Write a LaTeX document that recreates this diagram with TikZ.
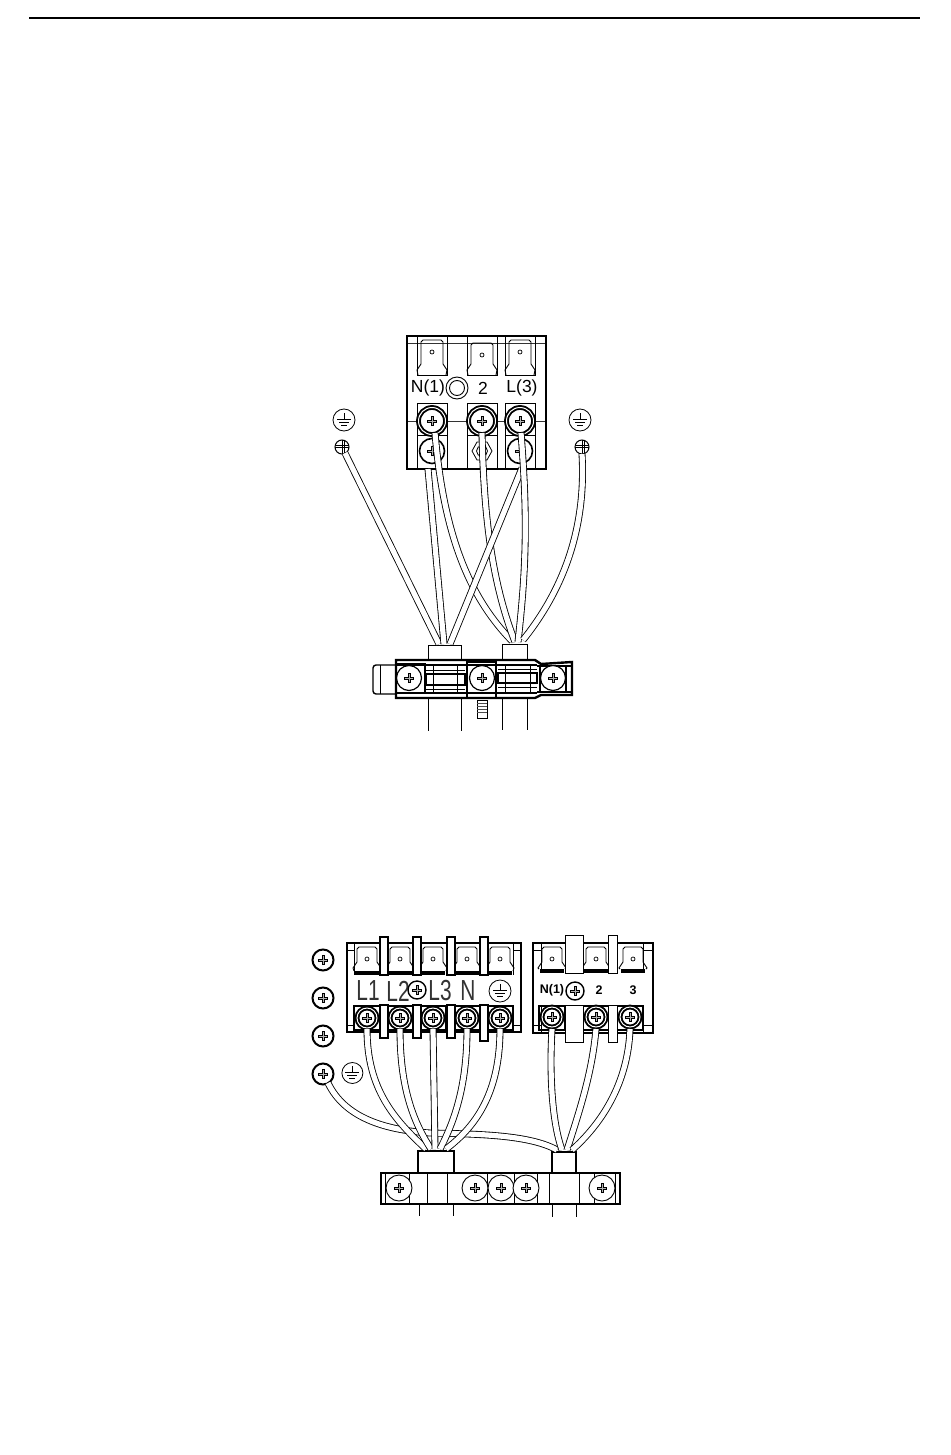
\documentclass[tikz,border=0pt]{standalone}
\usepackage{fontspec}
\setmainfont{Liberation Sans}
\newfontfamily\narrowfont[FakeStretch=0.72]{Liberation Sans}
\usetikzlibrary{positioning}
\newcommand{\screwcross}{%
  \draw[line width=3pt] ([xshift=-5pt]path picture bounding box.center) -- ([xshift=5pt]path picture bounding box.center);
  \draw[line width=3pt] ([yshift=-5pt]path picture bounding box.center) -- ([yshift=5pt]path picture bounding box.center);
  \draw[white!70!black,line width=.8pt] ([xshift=-4pt]path picture bounding box.center) -- ([xshift=4pt]path picture bounding box.center);
  \draw[white!70!black,line width=.8pt] ([yshift=-4pt]path picture bounding box.center) -- ([yshift=4pt]path picture bounding box.center);}
\newcommand{\smallcross}{%
  \draw[line width=.8pt] (path picture bounding box.west) -- (path picture bounding box.east);
  \draw[line width=.8pt] (path picture bounding box.north) -- (path picture bounding box.south);
  \draw[line width=.8pt] ([xshift=-6pt,yshift=2pt]path picture bounding box.center) -- ([xshift=6pt,yshift=2pt]path picture bounding box.center);
  \draw[line width=.8pt] ([xshift=2pt,yshift=-6pt]path picture bounding box.center) -- ([xshift=2pt,yshift=6pt]path picture bounding box.center);}
\newcommand{\earthmark}{%
  \draw[line width=.7pt] ([yshift=7pt]path picture bounding box.center) -- ([yshift=1pt]path picture bounding box.center);
  \draw[line width=.7pt] ([xshift=-7pt,yshift=1pt]path picture bounding box.center) -- ([xshift=7pt,yshift=1pt]path picture bounding box.center);
  \draw[line width=.7pt] ([xshift=-5pt,yshift=-2pt]path picture bounding box.center) -- ([xshift=5pt,yshift=-2pt]path picture bounding box.center);
  \draw[line width=.7pt] ([xshift=-3pt,yshift=-5pt]path picture bounding box.center) -- ([xshift=3pt,yshift=-5pt]path picture bounding box.center);}
\tikzset{
  screw/.style={draw,circle,inner sep=0pt,minimum size=#1,fill=white,line width=.9pt,path picture={\screwcross}},
  ringscrew/.style={screw=#1,line width=1.9pt,double=white,double distance=1pt},
  boldscrew/.style={screw=#1,line width=2pt},
  faintscrew/.style={screw=#1,line width=1.6pt},
  tinyscrew/.style={draw,circle,inner sep=0pt,minimum size=#1,line width=1pt,path picture={\smallcross}},
  earth/.style={draw,circle,inner sep=0pt,minimum size=#1,line width=.8pt,path picture={\earthmark}},
  wire/.style={double=white,double distance=5.2pt,line width=.85pt},
  thinline/.style={line width=.8pt,black!80},
  heavy/.style={line width=2pt},
  toplabel/.style={inner sep=0pt,font=\fontsize{17.5}{18}\selectfont},
  biglabel/.style={inner sep=0pt,black!80,font=\narrowfont\fontsize{29}{29}\selectfont},
  boldlabel/.style={inner sep=0pt,font=\bfseries\fontsize{12.5}{13}\selectfont}
}
\newcommand{\spade}[5]{% centre x, top, shoulder, base, half width
  \draw[line width=.9pt] (#1-#5,#4) -- (#1-#5-1,#3+2) -- (#1-#5+3,#3-4) -- (#1-#5+3,#2+2) -- (#1-#5+5,#2) -- (#1+#5-5,#2) -- (#1+#5-3,#2+2) -- (#1+#5-3,#3-4) -- (#1+#5+1,#3+2) -- (#1+#5,#4);
  \draw[line width=.7pt] (#1,#2+12) circle (2);}
\begin{document}
\begin{tikzpicture}[x=1pt,y=-1pt]
\useasboundingbox (0,0) rectangle (950,1455);
\draw[heavy] (29,18) -- (920,18);

% upper terminal block
\draw[thinline] (407,343) -- (546,343);
\draw[thinline] (407,421) -- (546,421);
\draw[heavy] (407,336) rectangle (546,469);
\foreach \x/\t in {432/340,482/343,520/340} {
  \draw[line width=.9pt] (\x-15,336) -- (\x-15,375) -- (\x+15,375) -- (\x+15,336);
  \spade{\x}{\t}{368}{375}{14}
  \draw[line width=1pt] (\x-15,403) -- (\x-15,469) (\x+15,403) -- (\x+15,469);
  \draw[line width=.9pt] (\x-15,403) -- (\x+15,403);
  \draw[line width=.9pt] (\x-15,435) -- (\x+15,435);
}
\node[toplabel] (n1) at (428,388) {N(1)};
\node[draw,circle,inner sep=0pt,minimum size=22pt,line width=.9pt] (ring) at (457,388) {};
\node[draw,circle,inner sep=0pt,minimum size=15pt,line width=.9pt] (ringin) at (457,388) {};
\node[toplabel] (n2) at (483,388) {2};
\node[toplabel] (n3) at (522,388) {L(3)};
\node[faintscrew=25pt] (lowa) at (432,451) {};
\node[faintscrew=25pt] (lowc) at (520,451) {};
\draw[line width=.8pt] (472,451) -- (477,442) -- (487,442) -- (492,451) -- (487,460) -- (477,460) -- cycle;
\node[draw,circle,inner sep=0pt,minimum size=11pt,line width=.8pt] (lowb) at (482,451) {};
\node[ringscrew=27pt] (scra) at (432,421) {};
\node[ringscrew=27pt] (scrb) at (482,421) {};
\node[ringscrew=27pt] (scrc) at (520,421) {};
\node[earth=22pt] (ela) at (344,420) {};
\node[earth=22pt] (era) at (580,420) {};
\node[tinyscrew=14pt] (gla) at (342,447) {};
\node[tinyscrew=14pt] (gra) at (582,447) {};

% upper clamp
\draw[line width=1.4pt,rounded corners=3pt] (396,665) -- (373,665) -- (373,694) -- (396,694);
\draw[line width=.9pt] (380,665) -- (380,694);
\draw[line width=2.4pt] (396,660) -- (535,660) -- (541,664) -- (572,662) -- (572,695) -- (541,695) -- (535,698) -- (396,698) -- cycle;
\draw[line width=1.6pt] (396,665) -- (537,665) (396,693) -- (537,693);
\draw[line width=1.4pt] (396,664) -- (425,664) -- (425,693) -- (396,693);
\draw[line width=1.4pt] (537,666) -- (572,666) (537,692) -- (572,692) (540,666) -- (540,692) (566,666) -- (566,692);
\draw[line width=.9pt] (426,670) -- (465,670) (426,689) -- (465,689) (498,669) -- (537,669) (498,687) -- (537,687);
\draw[heavy] (426,674) rectangle (465,685);
\draw[heavy] (498,673) rectangle (537,683);
\draw[line width=.9pt] (433,665) -- (433,693) (457,665) -- (457,693) (505,665) -- (505,693) (530,665) -- (530,693);
\draw[heavy] (467,662) rectangle (496,698);
\draw[line width=.9pt] (428,645) rectangle (461,660);
\draw[line width=.9pt] (502,644) rectangle (527,660);
\node[boldscrew=25pt,line width=1.2pt] (cla) at (409,678) {};
\node[boldscrew=25pt,line width=1.2pt] (clb) at (482,678) {};
\node[boldscrew=25pt,line width=1.2pt] (clc) at (553,678) {};
\coordinate (cblu) at (428,698); \coordinate (cblv) at (461,698);
\coordinate (cblw) at (502,698); \coordinate (cblx) at (527,698);
\draw[line width=.9pt] (cblu) -- ++(0,33);
\draw[line width=.9pt] (cblv) -- ++(0,33);
\draw[line width=.9pt] (cblw) -- ++(0,32);
\draw[line width=.9pt] (cblx) -- ++(0,32);
\draw[line width=.9pt] (477,700) rectangle (487,718);
\foreach \y in {703,706,709,712} \draw[line width=.6pt,black!70] (477,\y) -- (487,\y);

% upper wires
\coordinate (sla) at (439,644); \coordinate (slb) at (444,644); \coordinate (slc) at (450,644);
\coordinate (sra) at (512,641); \coordinate (srb) at (515,642); \coordinate (src) at (518,642); \coordinate (srd) at (523,640);
\coordinate (wna) at (428,469); \coordinate (wnb) at (435,433); \coordinate (wlb) at (522,468);
\coordinate (wmb) at (482,433); \coordinate (wla) at (521,433);
\draw[wire] (gla) ++(3,6) -- (sla);
\draw[wire] (wna) -- (slb);
\draw[wire] (wnb) .. controls (444,540) and (472,600) .. (sra);
\draw[wire] (wmb) .. controls (484,530) and (495,590) .. (srb);
\draw[wire] (wlb) -- (slc);
\draw[wire] (wla) .. controls (528,520) and (526,570) .. (src);
\draw[wire] (gra) ++(0,7) .. controls (587,540) and (555,600) .. (srd);

% lower left terminal block
\draw[heavy] (347,943) rectangle (521,1032);
\draw[line width=.9pt] (354,943) -- (354,975) (354,1005) -- (354,1032) (513,943) -- (513,975) (513,1005) -- (513,1032);
\draw[line width=.9pt] (347,950) -- (354,950) (513,950) -- (521,950) (347,1025) -- (354,1025) (513,1025) -- (521,1025);
\draw[line width=.9pt] (354,1005) -- (513,1005);
\foreach \x in {367,400,433,467,500} {
  \spade{\x}{947}{966}{971}{13}
  \fill (\x-12,971) rectangle (\x+12,975);
  \draw[line width=1.2pt] (\x-13,1006) rectangle (\x+13,1030);
}
\foreach \x/\b in {384/1038,417/1038,451/1038,484/1041} {
  \draw[fill=white,line width=1.2pt] (\x-4,937) rectangle (\x+4,975);
  \draw[fill=white,line width=1.2pt] (\x-4,1005) rectangle (\x+4,\b);
}
\node[biglabel] (ltl) at (368,991) {L1};
\node[biglabel] (ltm) at (398,991) {L2};
\node[biglabel] (ltn) at (440,991) {L3};
\node[biglabel] (lto) at (468,991) {N};
\node[boldscrew=18pt,line width=1.4pt] (lscr) at (417,990) {};
\node[earth=22pt] (lte) at (500,991) {};
\foreach \n/\x in {p/367,q/400,r/433,s/467,t/500}
  \node[ringscrew=20pt] (sc\n) at (\x,1018) {};
\node[boldscrew=21pt] (fa) at (323,960) {};
\node[boldscrew=21pt] (fb) at (323,998) {};
\node[boldscrew=21pt] (fc) at (323,1036) {};
\node[boldscrew=21pt] (fd) at (323,1074) {};
\node[earth=21pt,right=7pt of fd,yshift=1pt] (fe) {};

% lower right terminal block
\draw[heavy] (533,943) rectangle (653,1033);
\draw[line width=.9pt] (541,943) -- (541,973) (541,1005) -- (541,1033) (643,943) -- (643,973) (643,1005) -- (643,1033);
\draw[line width=.9pt] (533,950) -- (541,950) (643,950) -- (653,950) (533,1025) -- (541,1025) (643,1025) -- (653,1025);
\draw[line width=.9pt] (541,1005) -- (643,1005);
\foreach \x in {552,596,633} {
  \spade{\x}{947}{966}{969}{13}
  \fill (\x-12,969) rectangle (\x+12,973);
}
\foreach \x in {552,596,630} \draw[line width=1.2pt] (\x-13,1006) rectangle (\x+13,1030);
\foreach \a/\b in {565/583,608/617} {
  \draw[fill=white,line width=.9pt] (\a,935) rectangle (\b,973);
  \draw[fill=white,line width=.9pt] (\a,1005) rectangle (\b,1042);
}
\node[boldlabel] (rtl) at (552,990) {N(1)};
\node[boldscrew=18pt,line width=1.4pt] (rscr) at (575,991) {};
\node[boldlabel] (rtm) at (599,990) {2};
\node[boldlabel] (rtn) at (633,990) {3};
\foreach \n/\x in {u/552,v/596,w/630}
  \node[ringscrew=20pt] (sc\n) at (\x,1017) {};

% lower bar
\draw[line width=2.4pt] (381,1173) rectangle (620,1204);
\foreach \x in {385,409,427,447,487,514,537,549,579,594,615}
  \draw[line width=.8pt] (\x,1173) -- (\x,1204);
\draw[line width=2.2pt,fill=white] (418,1151) rectangle (454,1173);
\draw[line width=1.6pt,fill=white] (552,1152) rectangle (576,1173);
\foreach \n/\x in {a/399,b/475,c/501,d/526,e/602}
  \node[screw=26pt] (bar\n) at (\x,1188) {};
\coordinate (bcu) at (419,1204); \coordinate (bcv) at (453,1204);
\coordinate (bcw) at (552,1204); \coordinate (bcx) at (576,1204);
\draw[line width=.9pt] (bcu) -- ++(0,12);
\draw[line width=.9pt] (bcv) -- ++(0,12);
\draw[line width=.9pt] (bcw) -- ++(0,13);
\draw[line width=.9pt] (bcx) -- ++(0,13);

% lower wires
\coordinate (ka) at (426,1149); \coordinate (kb) at (431,1149); \coordinate (kc) at (435,1149);
\coordinate (kd) at (440,1149); \coordinate (ke) at (446,1149);
\coordinate (ma) at (562,1150); \coordinate (mb) at (567,1150); \coordinate (mc) at (572,1150);
\draw[wire] (fd) ++(5,9) .. controls (345,1118) and (385,1130) .. (430,1133) .. controls (480,1134) and (530,1135) .. (557,1150);
\draw[wire] (scp) ++(0,11) .. controls (367,1090) and (395,1120) .. (ka);
\draw[wire] (scq) ++(0,11) .. controls (400,1085) and (412,1120) .. (kb);
\draw[wire] (scr) ++(0,11) -- (kc);
\draw[wire] (scs) ++(0,11) .. controls (467,1085) and (455,1120) .. (kd);
\draw[wire] (sct) ++(0,11) .. controls (500,1090) and (478,1125) .. (ke);
\draw[wire] (scu) ++(0,12) .. controls (549,1080) and (553,1125) .. (ma);
\draw[wire] (scv) ++(0,12) .. controls (592,1075) and (578,1115) .. (mb);
\draw[wire] (scw) ++(0,12) .. controls (628,1085) and (600,1125) .. (mc);
\end{tikzpicture}
\end{document}
